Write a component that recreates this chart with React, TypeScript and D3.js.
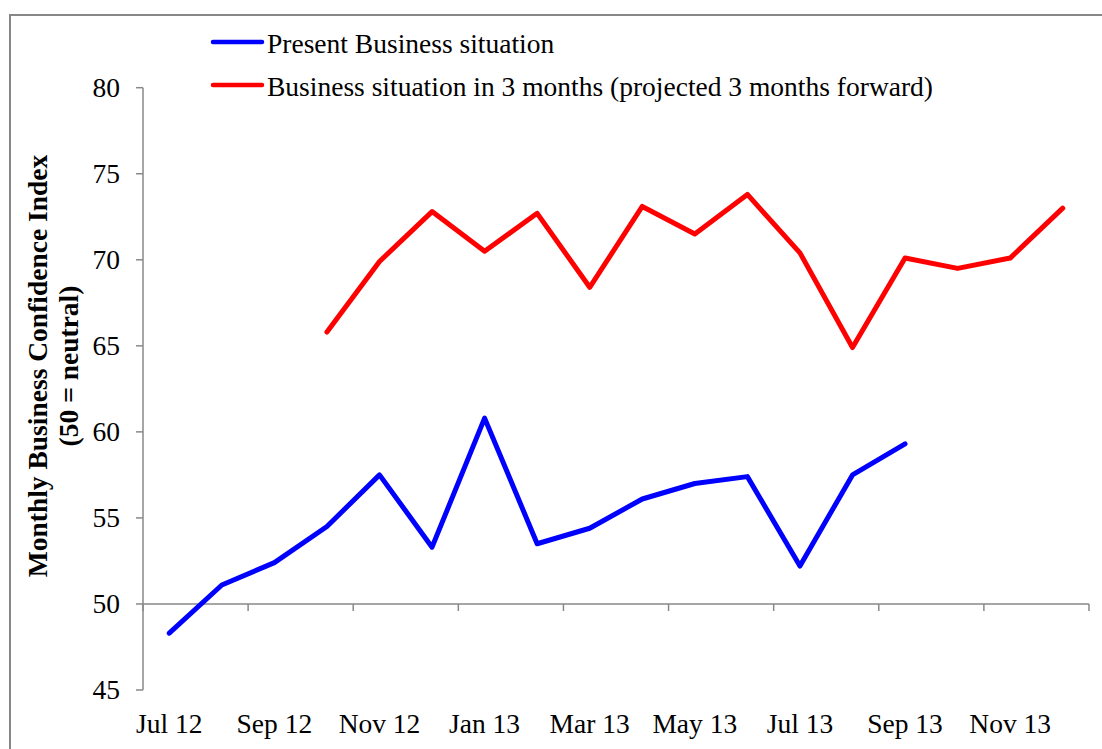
import React from "react";
import * as d3 from "d3";

const months = [
  "Jul 12", "Aug 12", "Sep 12", "Oct 12", "Nov 12", "Dec 12",
  "Jan 13", "Feb 13", "Mar 13", "Apr 13", "May 13", "Jun 13",
  "Jul 13", "Aug 13", "Sep 13", "Oct 13", "Nov 13", "Dec 13",
];

// Present business situation index
const presentValues: (number | null)[] = [
  48.3, 51.1, 52.4, 54.5, 57.5, 53.3, 60.8, 53.5, 54.4, 56.1, 57.0, 57.4,
  52.2, 57.5, 59.3, null, null, null,
];

// Expected business situation 3 months ahead (plotted at the projected month)
const projectedValues: (number | null)[] = [
  null, null, null, 65.8, 69.9, 72.8, 70.5, 72.7, 68.4, 73.1, 71.5, 73.8,
  70.4, 64.9, 70.1, 69.5, 70.1, 73.0,
];

const yTicks = [45, 50, 55, 60, 65, 70, 75, 80];

const seriesNames = [
  "Present Business situation",
  "Business situation in 3 months (projected 3 months forward)",
];
const seriesColors = ["#0000ff", "#ff0000"];

const W = 1102;
const H = 749;
const FONT = "'Liberation Serif', 'Times New Roman', serif";
const AXIS = "#898989";

export default function App() {
  const x = d3.scaleBand<string>().domain(months).range([143, 1089]).padding(0);
  const y = d3.scaleLinear().domain([45, 80]).range([690, 87.7]);
  const cx = (m: string) => (x(m) as number) + x.bandwidth() / 2;

  const line = d3
    .line<number | null>()
    .defined((d) => d !== null)
    .x((_, i) => cx(months[i]))
    .y((d) => y(d as number));

  const series = [presentValues, projectedValues];
  const baseY = y(50);

  // tick marks on the category axis every second month, at band edges
  const xTickPos: number[] = [];
  months.forEach((m, i) => {
    if (i % 2 === 0) xTickPos.push(x(m) as number);
  });
  xTickPos.push(x.range()[1]);

  return (
    <svg
      width={W}
      height={H}
      style={{ position: "absolute", left: 0, top: 0, background: "#fff" }}
      fontFamily={FONT}
    >
      <rect x={10} y={15} width={1100} height={750} fill="#fff" stroke="#878787" strokeWidth={2} />

      {/* value axis */}
      <line x1={143} x2={143} y1={y(80)} y2={y(45)} stroke={AXIS} strokeWidth={1.5} />
      {yTicks.map((t) => (
        <g key={t}>
          <line x1={136} x2={143} y1={y(t)} y2={y(t)} stroke={AXIS} strokeWidth={1.5} />
          <text x={120} y={y(t)} dy="0.34em" textAnchor="end" fontSize={27.5} fill="#000">
            {t}
          </text>
        </g>
      ))}

      {/* category axis crossing at 50 */}
      <line x1={143} x2={x.range()[1]} y1={baseY} y2={baseY} stroke={AXIS} strokeWidth={1.5} />
      {xTickPos.map((p, i) => (
        <line key={i} x1={p} x2={p} y1={baseY} y2={baseY + 7} stroke={AXIS} strokeWidth={1.5} />
      ))}
      {months.map((m, i) =>
        i % 2 === 0 ? (
          <text key={m} x={cx(m)} y={733} textAnchor="middle" fontSize={27.5} fill="#000">
            {m}
          </text>
        ) : null
      )}

      {/* axis title */}
      <text
        transform={`translate(47, 366) rotate(-90)`}
        textAnchor="middle"
        fontSize={27.5}
        fontWeight="bold"
        fill="#000"
      >
        <tspan x={0} dy={0}>Monthly Business Confidence Index</tspan>
        <tspan x={0} dy={31}>(50 = neutral)</tspan>
      </text>

      {/* series */}
      {series.map((s, i) => (
        <path
          key={i}
          d={line(s) || ""}
          fill="none"
          stroke={seriesColors[i]}
          strokeWidth={5}
          strokeLinejoin="round"
          strokeLinecap="round"
        />
      ))}

      {/* legend */}
      {seriesNames.map((n, i) => (
        <g key={n}>
          <line
            x1={213}
            x2={262}
            y1={42 + i * 43}
            y2={42 + i * 43}
            stroke={seriesColors[i]}
            strokeWidth={4.5}
            strokeLinecap="round"
          />
          <text x={267} y={53 + i * 42.5} fontSize={27.5} fill="#000">
            {n}
          </text>
        </g>
      ))}
    </svg>
  );
}
